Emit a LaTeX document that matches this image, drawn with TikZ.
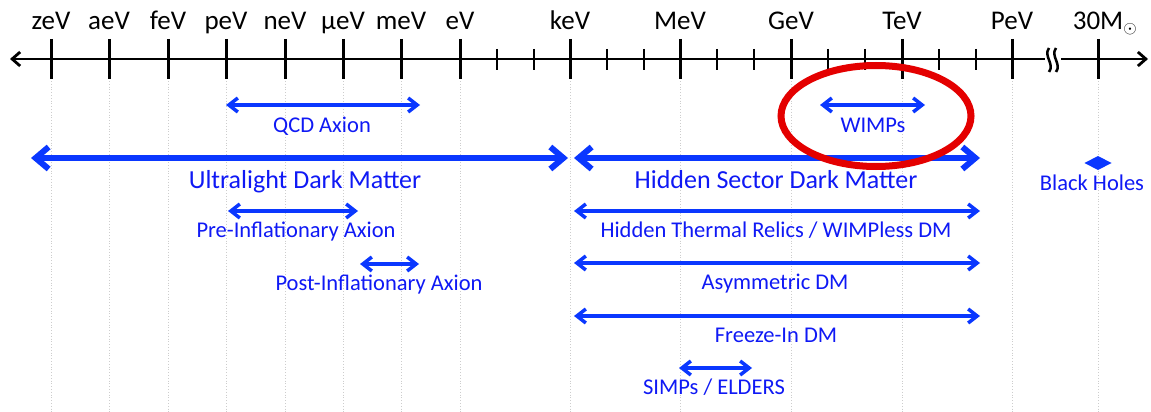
\documentclass[tikz,border=0pt]{standalone}
\usepackage{fontspec}
\setmainfont{Carlito}
\usetikzlibrary{arrows.meta}
\definecolor{dmblue}{RGB}{10,55,255}
\definecolor{dmtext}{RGB}{15,25,245}
\definecolor{ringred}{RGB}{228,0,0}
\definecolor{gridgray}{RGB}{205,205,205}
\tikzset{
  axislbl/.style={anchor=base, inner sep=0pt, text=black, font=\fontsize{27}{32}\selectfont},
  lbl/.style={anchor=base, inner sep=0pt, text=dmtext, font=\fontsize{22.5}{27}\selectfont},
  biglbl/.style={anchor=base, inner sep=0pt, text=dmtext, font=\fontsize{26}{31}\selectfont},
  thinarr/.style={draw=dmblue, line width=3.5pt, {Straight Barb[length=9pt,width=14pt]}-{Straight Barb[length=9pt,width=14pt]}},
  thickarr/.style={draw=dmblue, line width=6pt, {Straight Barb[length=13pt,width=22pt]}-{Straight Barb[length=13pt,width=22pt]}},
  majtick/.style={draw=black, line width=3pt},
  mintick/.style={draw=black, line width=2.5pt},
  gridln/.style={draw=gridgray, line width=0.8pt, dotted},
}
\begin{document}
\begin{tikzpicture}[x=1pt,y=-1pt]
\useasboundingbox (0,0) rectangle (1151,412);
\fill[white] (0,0) rectangle (1151,412);

% grid lines
\foreach \gx in {51,109,168,226,285,343,401,460,570,680,791,902,1012,1098}
  \draw[gridln] (\gx,81) -- (\gx,412);

% axis
\coordinate (axL) at (10,59);
\coordinate (axR) at (1148,59);
\draw[line width=2.8pt, {Straight Barb[length=8pt,width=14pt]}-{Straight Barb[length=8pt,width=14pt]}] (axL) -- (axR);

% major ticks
\foreach \gx in {51,109,168,226,285,343,401,460,570,680,791,902,1012,1098}
  \draw[majtick] (\gx,39) -- (\gx,79);
% minor ticks
\foreach \gx in {497,534,607,644,717,754,828,865,939,976}
  \draw[mintick] (\gx,49) -- (\gx,70);

% axis break
\fill[white] (1045,47) rectangle (1061,72);
\draw[line width=2.5pt] (1049,48) .. controls (1043,56) and (1055,64) .. (1049,72);
\draw[line width=2.5pt] (1056,48) .. controls (1050,56) and (1062,64) .. (1056,72);

% axis labels
\node[axislbl] (lzev) at (51,30) {zeV};
\node[axislbl] (laev) at (109,30) {aeV};
\node[axislbl] (lfev) at (168,30) {feV};
\node[axislbl] (lpev) at (226,30) {peV};
\node[axislbl] (lnev) at (285,30) {neV};
\node[axislbl] (luev) at (343,30) {μeV};
\node[axislbl] (lmev) at (401,30) {meV};
\node[axislbl] (lev) at (460,30) {eV};
\node[axislbl] (lkev) at (570,30) {keV};
\node[axislbl] (lMev) at (680,30) {MeV};
\node[axislbl] (lGev) at (791,30) {GeV};
\node[axislbl] (lTev) at (902,30) {TeV};
\node[axislbl] (lPev) at (1012,30) {PeV};
\node[axislbl] (lsun) at (1105,30) {30M$_{\odot}$};

% QCD axion
\coordinate (qcdL) at (226,105); \coordinate (qcdR) at (420,105);
\draw[thinarr] (qcdL) -- (qcdR);
\node[lbl] (qcd) at (322,132) {QCD Axion};

% WIMPs
\coordinate (wimpL) at (820,105); \coordinate (wimpR) at (925,105);
\draw[thinarr] (wimpL) -- (wimpR);
\node[lbl] (wimp) at (873,132) {WIMPs};

% Ultralight
\coordinate (ulL) at (31,158); \coordinate (ulR) at (568,158);
\draw[thickarr] (ulL) -- (ulR);
\node[biglbl] (ul) at (305,188) {Ultralight Dark Matter};

% Hidden sector
\coordinate (hsL) at (574,158); \coordinate (hsR) at (980,158);
\draw[thickarr] (hsL) -- (hsR);
\node[biglbl] (hs) at (776,188) {Hidden Sector Dark Matter};

% Pre-inflationary
\coordinate (preL) at (228,211); \coordinate (preR) at (358,211);
\draw[thinarr] (preL) -- (preR);
\node[lbl] (pre) at (296,237) {Pre-Inflationary Axion};

% Post-inflationary
\coordinate (postL) at (360,264); \coordinate (postR) at (419,264);
\draw[thinarr] (postL) -- (postR);
\node[lbl] (post) at (379,290) {Post-Inflationary Axion};

% Hidden thermal relics
\coordinate (htL) at (574,211); \coordinate (htR) at (980,211);
\draw[thinarr] (htL) -- (htR);
\node[lbl] (ht) at (776,237) {Hidden Thermal Relics / WIMPless DM};

% Asymmetric
\coordinate (asL) at (574,263); \coordinate (asR) at (980,263);
\draw[thinarr] (asL) -- (asR);
\node[lbl] (as) at (775,289) {Asymmetric DM};

% Freeze-in
\coordinate (fiL) at (574,316); \coordinate (fiR) at (980,316);
\draw[thinarr] (fiL) -- (fiR);
\node[lbl] (fi) at (776,342) {Freeze-In DM};

% SIMPs
\coordinate (siL) at (679,368); \coordinate (siR) at (752,368);
\draw[thinarr] (siL) -- (siR);
\node[lbl] (si) at (714,394) {SIMPs / ELDERS};

% Black holes
\coordinate (bhc) at (1098,163);
\fill[dmblue] (1084.5,163) -- (1098,156) -- (1111.5,163) -- (1098,170) -- cycle;
\node[lbl] (bh) at (1092,190) {Black Holes};

% red ring
\draw[ringred, line width=7pt] (876,116) ellipse [x radius=95, y radius=50.5];
\end{tikzpicture}
\end{document}
